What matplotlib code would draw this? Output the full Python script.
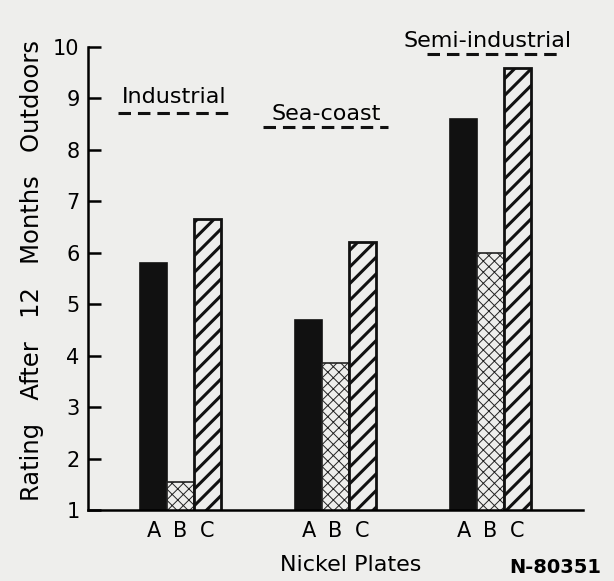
import numpy as np
import matplotlib
matplotlib.use("Agg")
import matplotlib.pyplot as plt

# donnees
groupes = ["Industrial", "Sea-coast", "Semi-industrial"]
plaques = ["A", "B", "C"]
plaque_a = [5.8, 4.7, 8.6]
plaque_b = [1.55, 3.85, 6.0]
plaque_c = [6.65, 6.2, 9.6]
y_ticks = [1, 2, 3, 4, 5, 6, 7, 8, 9, 10]

fond = "#eeeeec"
plt.rcParams["font.family"] = "DejaVu Sans"
plt.rcParams["lines.scale_dashes"] = False

fig = plt.figure(figsize=(6.14, 5.81), dpi=100, facecolor=fond)
ax = fig.add_axes([0.1433, 0.1222, 0.8062, 0.7969])
ax.set_facecolor(fond)

x = np.arange(len(groupes))
w = 0.174
ax.bar(x - w, plaque_a, w, color="#111111", edgecolor="#111111", linewidth=1.2)
ax.bar(x, plaque_b, w, color=fond, edgecolor="#222222", linewidth=1.2, hatch="xxx", hatch_linewidth=0.7)
ax.bar(x + w, plaque_c, w, color=fond, edgecolor="#111111", linewidth=2.0, hatch="//", hatch_linewidth=2.2)

ax.set_ylim(1, 10)
ax.set_xlim(-0.597, 2.597)
ax.set_yticks(y_ticks)
ax.tick_params(axis="y", direction="in", length=9, width=1.8, labelsize=15, pad=6)

# etiquettes A B C sous chaque barre
pos = np.concatenate([x - w, x, x + w])
lab = [plaques[0]] * 3 + [plaques[1]] * 3 + [plaques[2]] * 3
ax.set_xticks(pos)
ax.set_xticklabels(lab)
ax.tick_params(axis="x", length=0, labelsize=15, pad=8)

for s in ["top", "right"]:
    ax.spines[s].set_visible(False)
for s in ["left", "bottom"]:
    ax.spines[s].set_linewidth(1.8)

ax.set_ylabel("Rating   After   12   Months   Outdoors", fontsize=17.5)
ax.yaxis.set_label_coords(-0.089, 0.518)
ax.set_xlabel("Nickel Plates", fontsize=16)
ax.xaxis.set_label_coords(0.53, -0.097)

# titres des groupes avec soulignement en tirets
titres = [(0.174, 0.892, 0.061, 0.291, 0.857),
          (0.481, 0.856, 0.354, 0.606, 0.827),
          (0.808, 1.013, 0.685, 0.954, 0.985)]
for nom, (tx, ty, x0, x1, yl) in zip(groupes, titres):
    ax.text(tx, ty, nom, transform=ax.transAxes, ha="center", va="center",
            fontsize=16, clip_on=False)
    ax.plot([x0, x1], [yl, yl], transform=ax.transAxes, color="#111111",
            linewidth=2.2, linestyle=(0, (9, 5)), clip_on=False)

fig.text(0.905, 0.024, "N-80351", fontsize=14, fontweight="bold", ha="center", va="center")

fig.savefig("out.png", dpi=100, facecolor=fond)
